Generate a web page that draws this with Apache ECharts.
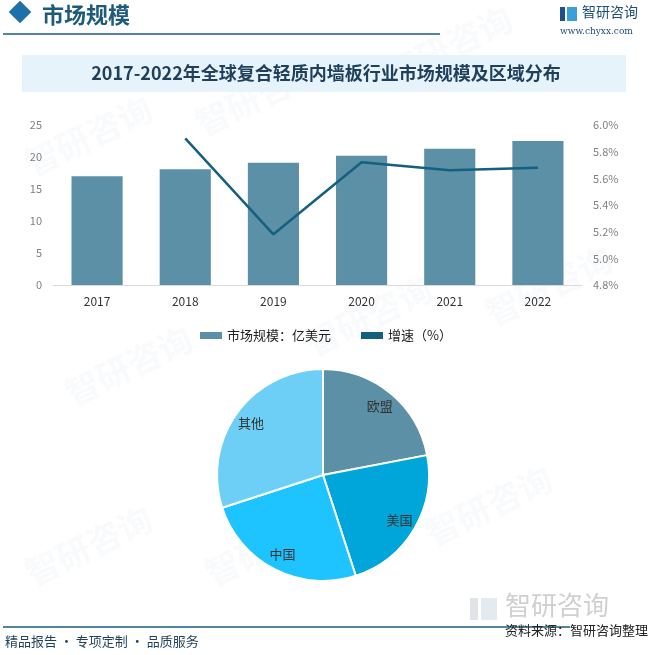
<!DOCTYPE html>
<html>
<head>
<meta charset="utf-8">
<script src="https://cdn.jsdelivr.net/npm/echarts@6/dist/echarts.min.js"></script>
<style>
html, body { margin: 0; padding: 0; background: #fff; }
#Chart { width: 652px; height: 655px; }
</style>
</head>
<body>
<div id="Chart"></div>
<script>
var years = ['2017', '2018', '2019', '2020', '2021', '2022'];
var marketSize = [17.0, 18.1, 19.1, 20.2, 21.3, 22.5];
var growthRate = [null, 5.9, 5.18, 5.72, 5.66, 5.68];
var regions = ['欧盟', '美国', '中国', '其他'];
var regionShare = [22, 23, 25, 30];
var regionColors = ['#5B90A7', '#00A5DA', '#1EC4FF', '#6DCFF5'];

var font = '"Noto Sans CJK SC", "Microsoft YaHei", sans-serif';
var Chart = echarts.init(document.getElementById('Chart'));

var pieData = regions.map(function (name, i) {
    return { name: name, value: regionShare[i], itemStyle: { color: regionColors[i] } };
});

// faint watermarks
var marks = [];
[[20, 150], [190, 110], [380, 60], [60, 380], [300, 330], [480, 300], [20, 560], [200, 560], [420, 520]].forEach(function (p) {
    marks.push({
        type: 'text', x: p[0], y: p[1], rotation: Math.PI / 7, silent: true, z: -1,
        style: { text: '智研咨询', font: 'bold 34px ' + font, fill: 'rgba(200,215,228,0.12)' }
    });
});

var option = {
    backgroundColor: '#fff',
    textStyle: { fontFamily: font },
    graphic: marks.concat([
        { type: 'rect', shape: { x: 12, y: 4, width: 16, height: 16 }, rotation: Math.PI / 4, originX: 20, originY: 12, x: 0, y: 0,
          style: { fill: '#1F6FA8' } },
        { type: 'text', x: 42, y: 4, style: { text: '市场规模', font: 'bold 22px ' + font, fill: '#1E5A7A' } },
        { type: 'line', shape: { x1: 3, y1: 34, x2: 440, y2: 34 }, style: { stroke: '#1B5C7E', lineWidth: 1.5 } },
        { type: 'rect', shape: { x: 560, y: 7, width: 5, height: 14 }, style: { fill: '#1F4E8C' } },
        { type: 'rect', shape: { x: 567, y: 7, width: 10, height: 14 }, style: { fill: '#3AA0DA' } },
        { type: 'text', x: 582, y: 5, style: { text: '智研咨询', font: '14px ' + font, fill: '#1F4E78' } },
        { type: 'text', x: 560, y: 27, style: { text: 'www.chyxx.com', font: '9px "DejaVu Serif", serif', fill: '#1F4E78' } },
        { type: 'rect', shape: { x: 22, y: 55, width: 604, height: 37 }, style: { fill: '#E6F3FB' } },
        { type: 'text', x: 326, y: 73, style: { text: '2017-2022年全球复合轻质内墙板行业市场规模及区域分布',
          font: 'bold 18px ' + font, fill: '#1F3F5A', align: 'center', verticalAlign: 'middle' } },
        { type: 'text', x: 505, y: 592, style: { text: '智研咨询', font: '26px ' + font, fill: '#D0D0D0' } },
        { type: 'rect', shape: { x: 470, y: 598, width: 8, height: 22 }, style: { fill: '#E0E4E8' } },
        { type: 'rect', shape: { x: 481, y: 598, width: 16, height: 22 }, style: { fill: '#E3EAF0' } },
        { type: 'line', shape: { x1: 3, y1: 627, x2: 570, y2: 627 }, style: { stroke: '#1B5C7E', lineWidth: 1.5 } },
        { type: 'text', x: 648, y: 630, style: { text: '资料来源：智研咨询整理', font: '13px ' + font, fill: '#222', align: 'right', verticalAlign: 'middle' } },
        { type: 'text', x: 5, y: 641, style: { text: '精品报告 · 专项定制 · 品质服务', font: '13px ' + font, fill: '#1F3F5A', verticalAlign: 'middle' } }
    ]),
    legend: {
        top: 324,
        left: 'center',
        itemWidth: 22,
        itemHeight: 7,
        itemGap: 30,
        textStyle: { fontSize: 13, color: '#222' },
        data: [
            { name: '市场规模：亿美元', icon: 'rect' },
            { name: '增速（%）', icon: 'rect', itemStyle: { color: '#13607F' } }
        ]
    },
    grid: { left: 53, right: 70, top: 125, height: 160 },
    xAxis: {
        type: 'category',
        data: years,
        axisLine: { lineStyle: { color: '#D9D9D9' } },
        axisTick: { show: false },
        axisLabel: { color: '#333', fontSize: 12, margin: 10 }
    },
    yAxis: [{
        type: 'value', min: 0, max: 25, interval: 5,
        splitLine: { show: false },
        axisLabel: { color: '#808080', fontSize: 11, margin: 11 }
    }, {
        type: 'value', min: 4.8, max: 6.0, interval: 0.2,
        splitLine: { show: false },
        axisLabel: { color: '#808080', fontSize: 11, margin: 11, formatter: function (v) { return v.toFixed(1) + '%'; } }
    }],
    series: [{
        name: '市场规模：亿美元',
        type: 'bar',
        data: marketSize,
        barWidth: '58%',
        itemStyle: { color: '#5B90A7' }
    }, {
        name: '增速（%）',
        type: 'line',
        yAxisIndex: 1,
        data: growthRate,
        symbol: 'none',
        lineStyle: { color: '#13607F', width: 2.5 },
        itemStyle: { color: '#13607F' }
    }, {
        type: 'pie',
        center: [323, 475],
        radius: [0, 106],
        startAngle: 90,
        label: { show: false },
        labelLine: { show: false },
        itemStyle: { borderColor: '#fff', borderWidth: 2 },
        emphasis: { disabled: true },
        data: pieData
    }, {
        type: 'pie',
        center: [323, 475],
        radius: [66, 106],
        startAngle: 90,
        silent: true,
        label: { show: true, position: 'inside', color: '#333', fontSize: 13 },
        labelLine: { show: false },
        itemStyle: { color: 'rgba(0,0,0,0)' },
        data: regions.map(function (name, i) { return { name: name, value: regionShare[i] }; })
    }]
};

Chart.setOption(option);
</script>
</body>
</html>
